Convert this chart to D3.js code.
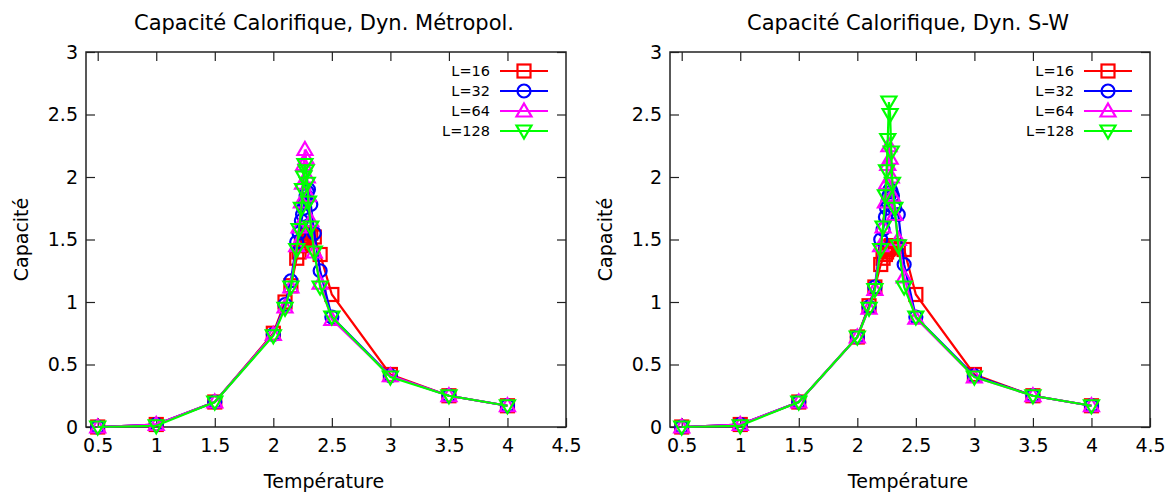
<!DOCTYPE html>
<html lang="fr">
<head>
  <meta charset="utf-8">
  <title>Capacité Calorifique</title>
  <script src="https://cdn.jsdelivr.net/npm/d3@7"></script>
  <style>
    body { margin: 0; background: #fff; font-family: "DejaVu Sans", sans-serif; }
    svg text { fill: #000; }
  </style>
</head>
<body>
<div id="chart"></div>
<script>

const w = 1174;
const h = 493;

// temperatures where C was measured (same grid for every L)
const temps = [0.5, 1, 1.5, 2, 2.1, 2.15, 2.2, 2.22, 2.24, 2.25, 2.26, 2.27, 2.28, 2.29, 2.3, 2.32, 2.35, 2.4, 2.5, 3, 3.5, 4];

const sizes = ["L=16", "L=32", "L=64", "L=128"];
const xTicks = [0.5, 1, 1.5, 2, 2.5, 3, 3.5, 4, 4.5];
const yTicks = [0, 0.5, 1, 1.5, 2, 2.5, 3];

// Metropolis dynamics
const metro16  = [0.00, 0.02, 0.20, 0.75, 1.00, 1.13, 1.35, 1.40, 1.45, 1.47, 1.49, 1.51, 1.52, 1.53, 1.55, 1.55, 1.52, 1.38, 1.06, 0.42, 0.25, 0.17];
const metro32  = [0.00, 0.02, 0.20, 0.74, 0.98, 1.17, 1.48, 1.55, 1.65, 1.70, 1.75, 1.80, 1.85, 1.88, 1.90, 1.78, 1.55, 1.25, 0.88, 0.41, 0.25, 0.17];
const metro64  = [0.00, 0.02, 0.20, 0.74, 0.96, 1.12, 1.45, 1.60, 1.80, 1.95, 2.10, 2.22, 2.15, 2.00, 1.85, 1.65, 1.40, 1.15, 0.86, 0.41, 0.25, 0.17];
const metro128 = [0.00, 0.01, 0.20, 0.73, 0.95, 1.12, 1.42, 1.58, 1.75, 1.90, 2.00, 2.10, 2.05, 1.95, 1.80, 1.60, 1.40, 1.12, 0.88, 0.40, 0.25, 0.17];

// Swendsen-Wang dynamics
const sw16  = [0.00, 0.02, 0.20, 0.72, 0.97, 1.12, 1.30, 1.35, 1.38, 1.40, 1.42, 1.43, 1.44, 1.45, 1.45, 1.45, 1.44, 1.42, 1.06, 0.42, 0.25, 0.17];
const sw32  = [0.00, 0.02, 0.20, 0.72, 0.96, 1.12, 1.50, 1.58, 1.68, 1.75, 1.80, 1.85, 1.90, 1.88, 1.85, 1.75, 1.70, 1.30, 0.88, 0.41, 0.25, 0.17];
const sw64  = [0.00, 0.02, 0.20, 0.72, 0.95, 1.10, 1.45, 1.60, 1.80, 1.95, 2.10, 2.25, 2.15, 2.00, 1.85, 1.70, 1.50, 1.20, 0.87, 0.40, 0.25, 0.17];
const sw128 = [0.00, 0.01, 0.20, 0.72, 0.95, 1.10, 1.42, 1.60, 1.85, 2.05, 2.30, 2.60, 2.50, 2.20, 1.95, 1.75, 1.45, 1.12, 0.88, 0.40, 0.25, 0.17];

const colors = ["#ff0000", "#0000ff", "#ff00ff", "#00ff00"];
const shapes = ["square", "circle", "up", "down"];

const svg = d3.select("#chart").append("svg")
    .attr("width", w)
    .attr("height", h);

function marker(g, shape, color) {
    if (shape === "square") {
        g.append("rect").attr("x", -6.5).attr("y", -6.5).attr("width", 13).attr("height", 13);
    } else if (shape === "circle") {
        g.append("circle").attr("r", 6.5);
    } else if (shape === "up") {
        g.append("path").attr("d", "M0,-7.5L7.5,5.5L-7.5,5.5Z");
    } else {
        g.append("path").attr("d", "M0,7.5L7.5,-5.5L-7.5,-5.5Z");
    }
    g.selectAll("*").attr("fill", "none").attr("stroke", color).attr("stroke-width", 2.2);
}

function drawPanel(left, title, seriesList) {
    const right = left + 480;
    const top = 52, bottom = 427;

    const x = d3.scaleLinear().domain([0.4, 4.5]).range([left, right]);
    const y = d3.scaleLinear().domain([0, 3]).range([bottom, top]);

    const g = svg.append("g");

    // ticks inward on all four sides (gnuplot style)
    g.append("g").attr("transform", `translate(0,${bottom})`)
        .call(d3.axisBottom(x).tickValues(xTicks).tickSizeInner(-9).tickSizeOuter(0).tickPadding(12).tickFormat(d3.format("")))
        .call(a => a.select(".domain").remove());
    g.append("g").attr("transform", `translate(0,${top})`)
        .call(d3.axisTop(x).tickValues(xTicks.slice(0, -1)).tickSizeInner(-9).tickSizeOuter(0).tickFormat(""))
        .call(a => a.select(".domain").remove());
    g.append("g").attr("transform", `translate(${left},0)`)
        .call(d3.axisLeft(y).tickValues(yTicks).tickSizeInner(-9).tickSizeOuter(0).tickPadding(8).tickFormat(d3.format("")))
        .call(a => a.select(".domain").remove());
    g.append("g").attr("transform", `translate(${right},0)`)
        .call(d3.axisRight(y).tickValues(yTicks).tickSizeInner(-9).tickSizeOuter(0).tickFormat(""))
        .call(a => a.select(".domain").remove());

    g.selectAll(".tick line").attr("stroke", "#222").attr("stroke-width", 1.2);
    g.selectAll(".tick text").attr("font-size", 19).attr("font-family", "DejaVu Sans, sans-serif").attr("fill", "#000");

    g.append("rect")
        .attr("x", left).attr("y", top)
        .attr("width", right - left).attr("height", bottom - top)
        .attr("fill", "none").attr("stroke", "#222").attr("stroke-width", 1.5);

    g.append("text")
        .attr("x", (left + right) / 2 - 2).attr("y", 30)
        .attr("text-anchor", "middle").attr("font-size", 21)
        .text(title);

    g.append("text")
        .attr("x", (left + right) / 2 - 2).attr("y", 488)
        .attr("text-anchor", "middle").attr("font-size", 19)
        .text("Température");

    g.append("text")
        .attr("transform", `translate(${left - 58},${(top + bottom) / 2}) rotate(-90)`)
        .attr("text-anchor", "middle").attr("font-size", 19)
        .text("Capacité");

    const line = d3.line().x((d, i) => x(temps[i])).y(d => y(d));

    seriesList.forEach((vals, k) => {
        g.append("path")
            .datum(vals)
            .attr("d", line)
            .attr("fill", "none")
            .attr("stroke", colors[k])
            .attr("stroke-width", 2.2);

        g.selectAll(null)
            .data(vals)
            .enter()
            .append("g")
            .attr("transform", (d, i) => `translate(${x(temps[i])},${y(d)})`)
            .each(function() { marker(d3.select(this), shapes[k], colors[k]); });
    });

    // legend
    const leg = g.append("g");
    sizes.forEach((name, k) => {
        const ly = top + 19 + k * 20;
        leg.append("text")
            .attr("x", right - 76).attr("y", ly + 5)
            .attr("text-anchor", "end").attr("font-size", 14.5)
            .text(name);
        leg.append("line")
            .attr("x1", right - 66).attr("x2", right - 18)
            .attr("y1", ly).attr("y2", ly)
            .attr("stroke", colors[k]).attr("stroke-width", 2.2);
        marker(leg.append("g").attr("transform", `translate(${right - 42},${ly})`), shapes[k], colors[k]);
    });
}

drawPanel(86, "Capacité Calorifique, Dyn. Métropol.", [metro16, metro32, metro64, metro128]);
drawPanel(670, "Capacité Calorifique, Dyn. S-W", [sw16, sw32, sw64, sw128]);

</script>
</body>
</html>
